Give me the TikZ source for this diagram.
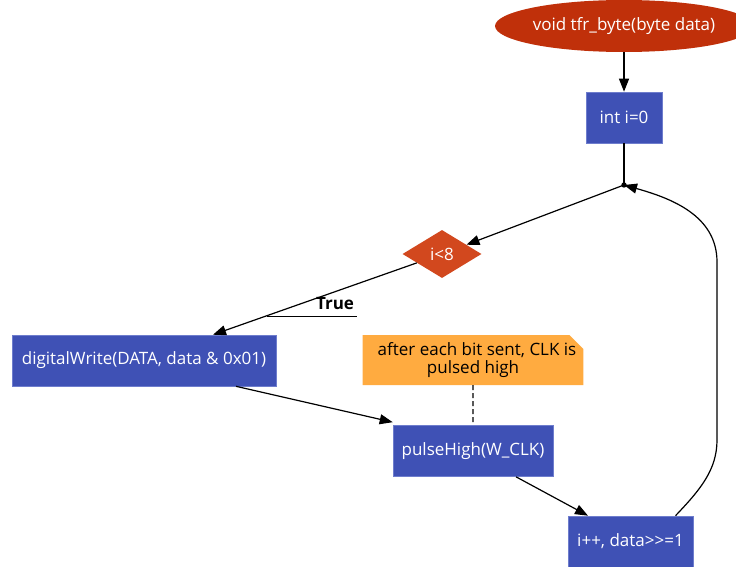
\documentclass[tikz,border=0pt]{standalone}
\usepackage{fontspec}
\setmainfont{Open Sans}
\usetikzlibrary{arrows.meta,shapes.geometric,shapes.misc}

\definecolor{startred}{RGB}{192,48,10}
\definecolor{decide}{RGB}{210,72,30}
\definecolor{procblue}{RGB}{63,81,181}
\definecolor{procedge}{RGB}{110,125,205}
\definecolor{notefill}{RGB}{255,171,64}

\begin{document}
\begin{tikzpicture}[x=1pt,y=-1pt,
  every node/.style={font=\fontsize{17}{18}\selectfont, inner sep=0pt},
  proc/.style={rectangle, fill=procblue, draw=procedge, line width=0.6pt,
    text=white, minimum height=51pt},
  flow/.style={draw=black, line width=1.2pt,
    -{Triangle[length=13pt,width=10pt]}},
  link/.style={draw=black, line width=1.2pt},
]
\useasboundingbox (0,0) rectangle (736,567);

% nodes
\node[ellipse, fill=startred, text=white, minimum width=250pt,
  minimum height=52pt] (start) at (624,26) {void tfr\_byte(byte data)};
\node[proc, minimum width=76pt] (init) at (624,117.5) {int i=0};
\coordinate (join) at (624,185);
\node[diamond, fill=decide, text=white, aspect=1.65, minimum width=79pt,
  minimum height=48pt] (test) at (442,254) {i<8};
\node[proc, minimum width=264pt] (write) at (144,360.5)
  {digitalWrite(DATA, data \& 0x01)};
\node[chamfered rectangle, chamfered rectangle corners=north east,
  chamfered rectangle xsep=7pt, chamfered rectangle ysep=7pt,
  fill=notefill, minimum width=218pt, minimum height=50pt,
  align=center, text=black] (note) at (473,360)
  {\hspace*{8pt}after each bit sent, CLK is\\pulsed high};
\node[proc, minimum width=160pt] (pulse) at (473,451) {pulseHigh(W\_CLK)};
\node[proc, minimum width=125pt] (inc) at (630.5,541.5) {i++, data>{}>=1};

% connectors
\draw[flow] (start) -- (init);
\draw[link] (init) -- (join);
\fill (join) circle (2.7pt);
\draw[flow] (join) -- (test);
\draw[flow] (test) -- ([xshift=69pt]write.north);
\node[font=\fontsize{17}{18}\selectfont\bfseries] (truelbl) at (335,304) {True};
\coordinate (tick) at (267,316);
\coordinate (tickend) at (357,316);
\draw[line width=1pt] (tick) -- (tickend);
\draw[flow] ([xshift=92pt]write.south) -- ([yshift=3pt]pulse.north west);
\draw[line width=1.2pt, dash pattern=on 5pt off 3pt] (note) -- (pulse);
\draw[flow] ([xshift=43pt]pulse.south) -- ([xshift=-42.5pt]inc.north);
\draw[flow] ([xshift=45pt]inc.north) .. controls (700,490) and (717,470) ..
  (717,440) -- (717,262) .. controls (717,215) and (670,198) .. (join);
\end{tikzpicture}
\end{document}
